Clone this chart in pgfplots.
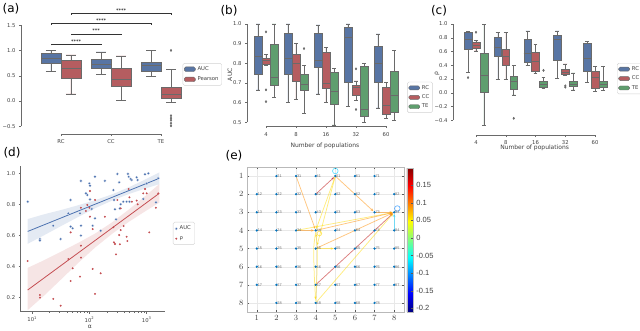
\documentclass[border=0pt]{standalone}
\usepackage{fontspec}
\setmainfont{DejaVu Sans}
\newfontfamily\mlfont{Liberation Sans}
\usepackage{pgfplots}
\pgfplotsset{compat=1.18}
\usepgfplotslibrary{statistics}
\usetikzlibrary{arrows.meta}

\definecolor{sbblue}{HTML}{5875A4}
\definecolor{sbred}{HTML}{B55D60}
\definecolor{sbgreen}{HTML}{5F9E6E}
\definecolor{sbline}{HTML}{6A6A6A}
\definecolor{sbtext}{HTML}{404040}
\definecolor{dblue}{HTML}{4C72B0}
\definecolor{dred}{HTML}{C44E52}
\definecolor{mblue}{HTML}{0072BD}
\definecolor{jO}{rgb}{1,0.55,0}
\definecolor{jY}{rgb}{1,0.85,0}
\definecolor{jR}{rgb}{0.72,0,0}
\definecolor{jC}{rgb}{0,0.8,1}
\definecolor{jB}{rgb}{0,0.5,1}

\pgfplotsset{
  sb/.style={scale only axis, clip=false, anchor=south west,
    axis x line*=bottom, axis y line*=left,
    axis line style={draw=none},
    tick align=outside, major tick length=2pt,
    tick style={sbline, line width=0.4pt},
    every tick label/.append style={font=\fontsize{5.3}{6}\selectfont, text=sbtext},
    label style={font=\fontsize{6}{7}\selectfont, text=sbtext},
    legend style={draw=gray!35, rounded corners=1.5pt, font=\fontsize{5.3}{6}\selectfont,
      inner sep=1.2pt, row sep=0pt, text=sbtext},
    legend cell align=left,
    boxplot/draw direction=y,
  },
  bx/.style n args={6}{boxplot prepared={lower whisker=#1, lower quartile=#2, median=#3,
    upper quartile=#4, upper whisker=#5, draw position=#6}},
  bxs/.style={forget plot, draw=sbline, line width=0.45pt, solid, mark=diamond*, mark size=1.1pt,
    mark options={fill=sbline, draw=sbline}},
  ed/.style={line width=0.75pt, opacity=0.5, -{Stealth[length=3.2pt,width=2.6pt]},
    shorten >=1.5pt, forget plot},
}

\pgfplotstableread{
x y
8.3 0.817
13.6 0.576
13.6 0.566
23.3 0.662
31.3 0.576
42.7 0.742
46.8 0.828
46.8 0.656
50.8 0.645
68.3 0.742
70.9 0.951
70.9 0.662
70.9 0.598
86.7 0.871
91.5 0.860
99.3 0.935
102 0.92
102 0.832
110 0.77
113.6 0.662
125 0.978
125 0.71
157 0.63
186 0.951
261 0.892
268 0.828
279 0.768
291 0.703
307 0.996
331 0.942
340 0.774
351 0.80
390 0.817
446 0.817
470 0.996
484 0.978
499 0.817
525 0.963
550 0.957
668 0.974
695 0.957
870 0.834
935 0.994
1000 0.935
1070 1.0
1450 0.813
1590 0.968
}\aucpts

\pgfplotstableread{
x y
8.3 0.434
13.6 0.215
13.6 0.198
23.3 0.19
31.3 0.146
42.7 0.447
46.8 0.619
46.8 0.305
50.8 0.387
68.3 0.333
70.9 0.778
70.9 0.533
70.9 0.456
86.7 0.757
91.5 0.796
99.3 0.778
102 0.886
102 0.72
113.6 0.64
113.6 0.383
125 0.828
125 0.222
157 0.355
186 0.72
261 0.652
268 0.555
279 0.544
291 0.477
307 0.828
331 0.602
340 0.542
351 0.634
351 0.774
395 0.66
446 0.591
460 0.563
484 0.899
499 0.845
550 0.817
668 0.824
695 0.80
870 0.871
935 0.899
1000 0.871
1110 0.619
1450 0.778
1590 0.871
}\rhopts

\pgfplotstableread{
x y lab
2 1 21
3 1 31
4 1 41
5 1 51
6 1 61
7 1 71
1 2 12
2 2 22
3 2 32
4 2 42
5 2 52
6 2 62
7 2 72
8 2 82
1 3 13
2 3 23
3 3 33
4 3 43
5 3 53
6 3 63
7 3 73
8 3 83
1 4 14
2 4 24
3 4 34
4 4 44
5 4 54
6 4 64
7 4 74
8 4 84
1 5 15
2 5 25
3 5 35
4 5 45
5 5 55
6 5 65
7 5 75
8 5 85
1 6 16
2 6 26
3 6 36
4 6 46
5 6 56
6 6 66
7 6 76
8 6 86
1 7 17
2 7 27
3 7 37
4 7 47
5 7 57
6 7 67
7 7 77
8 7 87
2 8 28
3 8 38
4 8 48
5 8 58
6 8 68
7 8 78
}\nodes

\begin{document}
\begin{tikzpicture}
\useasboundingbox (0,0) rectangle (640pt,330pt);

% ---------------- (a)
\begin{axis}[sb, at={(21pt,196pt)}, width=165pt, height=126.6pt,
  xmin=-0.8, xmax=2.5, ymin=-0.652, ymax=1.85,
  xtick={0,1,2}, xticklabels={RC,CC,TE},
  ytick={-0.5,0,0.5,1,1.5}, yticklabels={−0.5,0.0,0.5,1.0,1.5},
  boxplot/box extend=0.39, boxplot/whisker extend=0.2,
  legend style={at={(0.98,0.56)}, anchor=north west, row sep=0.8pt},
  legend image code/.code={\draw[#1] (0pt,-2.3pt) rectangle (11pt,2.3pt);}]
\addplot[bxs, fill=sbblue, bx={0.58}{0.755}{0.85}{0.95}{1.0}{-0.2}] coordinates {};
\addplot[bxs, fill=sbred, bx={0.14}{0.46}{0.655}{0.80}{0.91}{0.2}] coordinates {};
\addplot[bxs, fill=sbblue, bx={0.52}{0.64}{0.72}{0.82}{0.97}{0.8}] coordinates {};
\addplot[bxs, fill=sbred, bx={0.01}{0.29}{0.44}{0.64}{0.89}{1.2}] coordinates {};
\addplot[bxs, fill=sbblue, bx={0.48}{0.59}{0.70}{0.775}{1.0}{1.8}] coordinates {};
\addplot[bxs, fill=sbred, bx={-0.03}{0.06}{0.14}{0.28}{0.62}{2.2}]
  table[row sep=\\, y index=0] {v\\ 1.0\\ -0.29\\ -0.34\\ -0.38\\ -0.44\\ -0.49\\};
% significance brackets
\addplot[black!80, line width=0.4pt, forget plot] coordinates {(-0.2,1.10) (-0.2,1.13) (0.8,1.13) (0.8,1.10)};
\addplot[black!80, line width=0.4pt, forget plot] coordinates {(0.2,1.30) (0.2,1.33) (1.2,1.33) (1.2,1.30)};
\addplot[black!80, line width=0.4pt, forget plot] coordinates {(-0.2,1.50) (-0.2,1.53) (1.8,1.53) (1.8,1.50)};
\addplot[black!80, line width=0.4pt, forget plot] coordinates {(0.2,1.705) (0.2,1.735) (2.2,1.735) (2.2,1.705)};
\node[font=\fontsize{5}{5}\selectfont, anchor=south, inner sep=0.6pt] at (axis cs:0.3,1.13) {****};
\node[font=\fontsize{5}{5}\selectfont, anchor=south, inner sep=0.6pt] at (axis cs:0.7,1.33) {***};
\node[font=\fontsize{5}{5}\selectfont, anchor=south, inner sep=0.6pt] at (axis cs:0.8,1.53) {****};
\node[font=\fontsize{5}{5}\selectfont, anchor=south, inner sep=0.6pt] at (axis cs:1.2,1.735) {****};
\draw[sbline, line width=0.4pt] (axis cs:-0.8,-0.5) -- (axis cs:-0.8,1.5);
\draw[sbline, line width=0.4pt] (axis cs:0,-0.652) -- (axis cs:2,-0.652);
\addlegendimage{fill=sbblue, draw=sbline}\addlegendentry{AUC}
\addlegendimage{fill=sbred, draw=sbline}\addlegendentry{Pearson}
\end{axis}

% ---------------- (b)
\begin{axis}[sb, at={(247pt,204pt)}, width=154pt, height=107.9pt,
  xmin=-0.633, xmax=4.5, ymin=0.481, ymax=1.03,
  xtick={0,1,2,3,4}, xticklabels={4,8,16,32,60},
  xticklabel style={yshift=-1.5pt},
  ytick={0.5,0.6,0.7,0.8,0.9,1.0}, yticklabels={0.5,0.6,0.7,0.8,0.9,1.0},
  xlabel={Number of populations}, ylabel={AUC},
  xlabel style={at={(axis description cs:0.506,-0.185)}, anchor=center},
  ylabel style={at={(axis description cs:-0.11,0.475)}, anchor=center},
  boxplot/box extend=0.26, boxplot/whisker extend=0.13,
  legend style={at={(1.04,0.41)}, anchor=north west},
  legend image code/.code={\draw[#1] (0pt,-2pt) rectangle (11pt,2pt);}]
% 4
\addplot[bxs, fill=sbblue, bx={0.665}{0.742}{0.837}{0.94}{1.0}{-0.267}] coordinates {};
\addplot[bxs, fill=sbred, bx={0.788}{0.797}{0.817}{0.824}{0.845}{0}]
  table[row sep=\\, y index=0] {v\\ 0.96\\ 0.665\\ 0.605\\};
\addplot[bxs, fill=sbgreen, bx={0.627}{0.69}{0.73}{0.897}{1.0}{0.267}] coordinates {};
% 8
\addplot[bxs, fill=sbblue, bx={0.60}{0.742}{0.828}{0.952}{1.0}{0.733}] coordinates {};
\addplot[bxs, fill=sbred, bx={0.615}{0.71}{0.80}{0.845}{0.90}{1}] coordinates {};
\addplot[bxs, fill=sbgreen, bx={0.545}{0.665}{0.692}{0.745}{0.79}{1.267}]
  table[row sep=\\, y index=0] {v\\ 0.875\\};
% 16
\addplot[bxs, fill=sbblue, bx={0.645}{0.78}{0.818}{0.952}{0.995}{1.733}] coordinates {};
\addplot[bxs, fill=sbred, bx={0.60}{0.675}{0.70}{0.855}{0.88}{2}] coordinates {};
\addplot[bxs, fill=sbgreen, bx={0.487}{0.592}{0.66}{0.755}{0.773}{2.267}] coordinates {};
% 32
\addplot[bxs, fill=sbblue, bx={0.58}{0.703}{0.935}{0.982}{1.0}{2.733}] coordinates {};
\addplot[bxs, fill=sbred, bx={0.61}{0.637}{0.68}{0.69}{0.71}{3}]
  table[row sep=\\, y index=0] {v\\ 0.772\\ 0.565\\};
\addplot[bxs, fill=sbgreen, bx={0.50}{0.53}{0.568}{0.785}{0.80}{3.267}] coordinates {};
% 60
\addplot[bxs, fill=sbblue, bx={0.573}{0.703}{0.80}{0.888}{0.95}{3.733}] coordinates {};
\addplot[bxs, fill=sbred, bx={0.52}{0.54}{0.588}{0.68}{0.703}{4}] coordinates {};
\addplot[bxs, fill=sbgreen, bx={0.508}{0.552}{0.64}{0.758}{0.867}{4.267}] coordinates {};
\draw[sbline, line width=0.4pt] (axis cs:-0.633,0.5) -- (axis cs:-0.633,1.0);
\draw[sbline, line width=0.4pt] (axis cs:0,0.481) -- (axis cs:4,0.481);
\addlegendimage{fill=sbblue, draw=sbline}\addlegendentry{RC}
\addlegendimage{fill=sbred, draw=sbline}\addlegendentry{CC}
\addlegendimage{fill=sbgreen, draw=sbline}\addlegendentry{TE}
\end{axis}

% ---------------- (c)
\begin{axis}[sb, at={(453pt,195pt)}, width=157pt, height=114.4pt,
  xmin=-0.772, xmax=4.5, ymin=-0.616, ymax=1.05,
  xtick={0,1,2,3,4}, xticklabels={4,8,16,32,60},
  ytick={-0.4,-0.2,0,0.2,0.4,0.6,0.8,1.0}, yticklabels={−0.4,−0.2,0.0,0.2,0.4,0.6,0.8,1.0},
  xlabel={Number of populations}, ylabel={ρ},
  xlabel style={at={(axis description cs:0.52,-0.112)}, anchor=center},
  ylabel style={at={(axis description cs:-0.102,0.533)}, anchor=center},
  boxplot/box extend=0.26, boxplot/whisker extend=0.13,
  legend style={at={(1.045,0.629)}, anchor=north west},
  legend image code/.code={\draw[#1] (0pt,-2pt) rectangle (11pt,2pt);}]
% 4
\addplot[bxs, fill=sbblue, bx={0.30}{0.626}{0.777}{0.874}{0.89}{-0.267}]
  table[row sep=\\, y index=0] {v\\ 0.22\\};
\addplot[bxs, fill=sbred, bx={0.61}{0.646}{0.685}{0.728}{0.76}{0}]
  table[row sep=\\, y index=0] {v\\ 0.88\\};
\addplot[bxs, fill=sbgreen, bx={-0.476}{0.0}{0.257}{0.573}{1.0}{0.267}] coordinates {};
% 8
\addplot[bxs, fill=sbblue, bx={0.19}{0.534}{0.66}{0.806}{0.874}{0.733}] coordinates {};
\addplot[bxs, fill=sbred, bx={0.19}{0.403}{0.534}{0.631}{0.88}{1}] coordinates {};
\addplot[bxs, fill=sbgreen, bx={-0.03}{0.044}{0.17}{0.243}{0.393}{1.267}]
  table[row sep=\\, y index=0] {v\\ -0.373\\};
% 16
\addplot[bxs, fill=sbblue, bx={0.393}{0.45}{0.573}{0.777}{0.90}{1.733}] coordinates {};
\addplot[bxs, fill=sbred, bx={0.28}{0.306}{0.456}{0.592}{0.709}{2}] coordinates {};
\addplot[bxs, fill=sbgreen, bx={0.068}{0.087}{0.117}{0.165}{0.228}{2.267}]
  table[row sep=\\, y index=0] {v\\ 0.325\\};
% 32
\addplot[bxs, fill=sbblue, bx={0.204}{0.476}{0.777}{0.83}{0.90}{2.733}] coordinates {};
\addplot[bxs, fill=sbred, bx={0.26}{0.262}{0.30}{0.335}{0.42}{3}]
  table[row sep=\\, y index=0] {v\\ 0.10\\ 0.08\\};
\addplot[bxs, fill=sbgreen, bx={0.04}{0.097}{0.13}{0.17}{0.29}{3.267}] coordinates {};
% 60
\addplot[bxs, fill=sbblue, bx={0.15}{0.306}{0.50}{0.723}{0.75}{3.733}] coordinates {};
\addplot[bxs, fill=sbred, bx={0.02}{0.058}{0.223}{0.306}{0.379}{4}] coordinates {};
\addplot[bxs, fill=sbgreen, bx={0.03}{0.078}{0.117}{0.165}{0.379}{4.267}] coordinates {};
\draw[sbline, line width=0.4pt] (axis cs:-0.772,-0.4) -- (axis cs:-0.772,1.0);
\draw[sbline, line width=0.4pt] (axis cs:0,-0.616) -- (axis cs:4,-0.616);
\addlegendimage{fill=sbblue, draw=sbline}\addlegendentry{RC}
\addlegendimage{fill=sbred, draw=sbline}\addlegendentry{CC}
\addlegendimage{fill=sbgreen, draw=sbline}\addlegendentry{TE}
\end{axis}

% ---------------- (d)
\begin{axis}[sb, clip=true, at={(20.7pt,18.3pt)}, width=144.3pt, height=146.1pt,
  axis line style={draw=sbline, line width=0.5pt},
  xmode=log, xmin=6.27, xmax=2090, ymin=0.107, ymax=1.05,
  xtick={10,100,1000}, xticklabels={10\textsuperscript{1},10\textsuperscript{2},10\textsuperscript{3}},
  minor tick length=1.2pt,
  ytick={0.2,0.4,0.6,0.8,1.0}, yticklabels={0.2,0.4,0.6,0.8,1.0},
  xlabel={α},
  xlabel style={at={(axis description cs:0.48,-0.105)}, anchor=center},
  legend style={at={(1.055,0.614)}, anchor=north west, row sep=1pt, inner sep=1.8pt}]
\addplot[fill=dblue, fill opacity=0.15, draw=none, forget plot] coordinates {
  (8.3,0.705) (15.8,0.735) (31.6,0.763) (63.1,0.794) (126,0.827) (251,0.865) (501,0.912) (1000,0.965) (1660,1.006)
  (1660,0.93) (1000,0.905) (501,0.868) (251,0.825) (126,0.775) (63.1,0.718) (31.6,0.659) (15.8,0.599) (8.3,0.545)};
\addplot[fill=dred, fill opacity=0.15, draw=none, forget plot] coordinates {
  (8.3,0.39) (15.8,0.438) (31.6,0.494) (63.1,0.551) (126,0.612) (251,0.685) (501,0.77) (1000,0.861) (1660,0.931)
  (1660,0.811) (1000,0.761) (501,0.69) (251,0.611) (126,0.522) (63.1,0.421) (31.6,0.314) (15.8,0.208) (8.3,0.117)};
\addplot[only marks, mark=*, mark size=1.4pt, mark options={fill=dblue, draw=white, line width=0.15pt}] table {\aucpts};
\addlegendentry{AUC}
\addplot[only marks, mark=*, mark size=0.75pt, mark options={fill=dred, draw=dred}] table {\rhopts};
\addlegendentry{ρ}
\addplot[dblue, line width=0.8pt, forget plot] coordinates {(8.3,0.625) (1660,0.968)};
\addplot[dred, line width=0.8pt, forget plot] coordinates {(8.3,0.247) (1660,0.871)};
\end{axis}

% ---------------- (e)
\begin{axis}[scale only axis, anchor=south west, at={(247pt,18pt)}, width=157pt, height=145pt,
  xmin=0.5, xmax=8.5, ymin=0.5, ymax=8.5, y dir=reverse,
  xtick={1,...,8}, ytick={1,...,8},
  grid=major, grid style={gray!18, line width=0.3pt},
  axis line style={gray!55}, tick style={gray!70!black}, tick align=inside, major tick length=2pt,
  every tick label/.append style={font=\mlfont\fontsize{8}{9}\selectfont, text=black!75},
  colormap/jet, colorbar, point meta min=-0.21, point meta max=0.2,
  colorbar style={at={(1.018,0.995)}, anchor=north west, width=6pt, height=144pt, scale only axis,
    axis line style={gray!55}, tick style={gray!70!black}, major tick length=1.5pt,
    ytick={-0.2,-0.15,-0.1,-0.05,0,0.05,0.1,0.15},
    yticklabels={-0.2,-0.15,-0.1,-0.05,0,0.05,0.1,0.15},
    yticklabel style={font=\mlfont\fontsize{7.5}{8}\selectfont, text=black!75}}]
\addplot[ed, jO] coordinates {(3,1) (4,4)};
\addplot[ed, jR] coordinates {(4,2) (5,1)};
\addplot[ed, jY] coordinates {(5,1) (4,4)};
\addplot[ed, jY] coordinates {(5,1) (4.05,4.9)};
\addplot[ed, jO] coordinates {(5,1) (7,3)};
\addplot[ed, jO] coordinates {(7,3) (8,3)};
\addplot[ed, jO] coordinates {(3,4) (4,4)};
\addplot[ed, jY] coordinates {(3,4) (8,3)};
\addplot[ed, jO] coordinates {(4,4) (8,3)};
\addplot[ed, jO] coordinates {(4,5) (8,3)};
\addplot[ed, jR] coordinates {(4,7) (8,3)};
\addplot[ed, jY] coordinates {(4,8) (8,3)};
\addplot[ed, jC] coordinates {(8,4) (8,3)};
\addplot[ed, jY] coordinates {(4,5) (5,5)};
\addplot[ed, jY, smooth] coordinates {(4,4.1) (3.9,5) (3.93,6.5) (4,7.9)};
\addplot[ed, jY, smooth] coordinates {(4,7.9) (4.06,6.5) (4.08,5) (4,4.1)};
\addplot[only marks, mark=o, mark size=2.8pt, opacity=0.6, jC, line width=0.7pt, forget plot] coordinates {(5,0.72)};
\addplot[only marks, mark=o, mark size=2.8pt, opacity=0.6, jB, line width=0.7pt, forget plot] coordinates {(8.16,2.79)};
\addplot[only marks, mark=o, mark size=2.3pt, opacity=0.6, jY, line width=0.7pt, forget plot] coordinates {(4.19,4.17)};
\addplot[only marks, mark=*, mark size=0.95pt, mblue, point meta=explicit symbolic,
  nodes near coords, nodes near coords style={anchor=west, font=\mlfont\fontsize{3.8}{4}\selectfont,
  text=black!60, inner sep=0.8pt}] table[meta=lab] {\nodes};
\end{axis}

\node[font=\fontsize{12}{14}\selectfont] at (11pt,321pt) {(a)};
\node[font=\fontsize{12}{14}\selectfont] at (229pt,319pt) {(b)};
\node[font=\fontsize{12}{14}\selectfont] at (439pt,319pt) {(c)};
\node[font=\fontsize{12}{14}\selectfont] at (12pt,177.5pt) {(d)};
\node[font=\fontsize{12}{14}\selectfont] at (234pt,174pt) {(e)};
\end{tikzpicture}
\end{document}
